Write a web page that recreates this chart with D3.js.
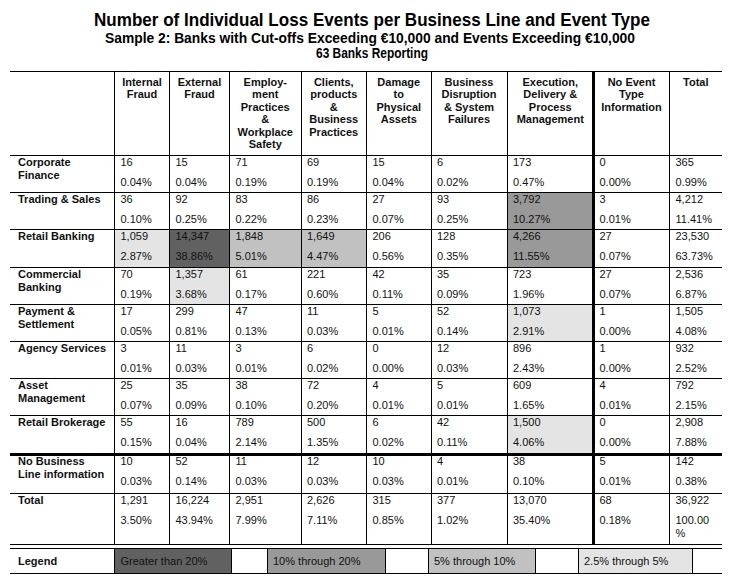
<!DOCTYPE html>
<html>
<head>
<meta charset="utf-8">
<script src="https://cdn.jsdelivr.net/npm/d3@7"></script>
<style>
  html, body { margin: 0; padding: 0; background: #fff; }
  svg { display: block; font-family: "Liberation Sans", Arial, sans-serif; }
  .ttl { font-family: "Liberation Sans Narrow", "Arial Narrow", "Liberation Sans", sans-serif; font-weight: bold; fill: #000; }
  .hdr { font-size: 11px; font-weight: bold; fill: #111; }
  .lbl { font-size: 11px; font-weight: bold; fill: #111; }
  .val { font-size: 11px; fill: #111; }
</style>
</head>
<body>
<div id="chart"></div>
<script>
// ---- data ---------------------------------------------------------------
var titleLines = [
  'Number of Individual Loss Events per Business Line and Event Type',
  'Sample 2: Banks with Cut-offs Exceeding \u20ac10,000 and Events Exceeding \u20ac10,000',
  '63 Banks Reporting'
];

var eventTypes = [
  ['Internal', 'Fraud'],
  ['External', 'Fraud'],
  ['Employ-', 'ment', 'Practices', '&', 'Workplace', 'Safety'],
  ['Clients,', 'products', '&', 'Business', 'Practices'],
  ['Damage', 'to', 'Physical', 'Assets'],
  ['Business', 'Disruption', '& System', 'Failures'],
  ['Execution,', 'Delivery &', 'Process', 'Management'],
  ['No Event', 'Type', 'Information'],
  ['Total']
];

var businessLines = [
  ['Corporate', 'Finance'],
  ['Trading & Sales'],
  ['Retail Banking'],
  ['Commercial', 'Banking'],
  ['Payment &', 'Settlement'],
  ['Agency Services'],
  ['Asset', 'Management'],
  ['Retail Brokerage'],
  ['No Business', 'Line information'],
  ['Total']
];

var counts = [
  [16, 15, 71, 69, 15, 6, 173, 0, 365],
  [36, 92, 83, 86, 27, 93, 3792, 3, 4212],
  [1059, 14347, 1848, 1649, 206, 128, 4266, 27, 23530],
  [70, 1357, 61, 221, 42, 35, 723, 27, 2536],
  [17, 299, 47, 11, 5, 52, 1073, 1, 1505],
  [3, 11, 3, 6, 0, 12, 896, 1, 932],
  [25, 35, 38, 72, 4, 5, 609, 4, 792],
  [55, 16, 789, 500, 6, 42, 1500, 0, 2908],
  [10, 52, 11, 12, 10, 4, 38, 5, 142],
  [1291, 16224, 2951, 2626, 315, 377, 13070, 68, 36922]
];

var shares = [
  [0.04, 0.04, 0.19, 0.19, 0.04, 0.02, 0.47, 0.00, 0.99],
  [0.10, 0.25, 0.22, 0.23, 0.07, 0.25, 10.27, 0.01, 11.41],
  [2.87, 38.86, 5.01, 4.47, 0.56, 0.35, 11.55, 0.07, 63.73],
  [0.19, 3.68, 0.17, 0.60, 0.11, 0.09, 1.96, 0.07, 6.87],
  [0.05, 0.81, 0.13, 0.03, 0.01, 0.14, 2.91, 0.00, 4.08],
  [0.01, 0.03, 0.01, 0.02, 0.00, 0.03, 2.43, 0.00, 2.52],
  [0.07, 0.09, 0.10, 0.20, 0.01, 0.01, 1.65, 0.01, 2.15],
  [0.15, 0.04, 2.14, 1.35, 0.02, 0.11, 4.06, 0.00, 7.88],
  [0.03, 0.14, 0.03, 0.03, 0.03, 0.01, 0.10, 0.01, 0.38],
  [3.50, 43.94, 7.99, 7.11, 0.85, 1.02, 35.40, 0.18, 100.00]
];

// highlighted cells: [row, col, legend band]
var highlights = [
  [1, 6, 1],
  [2, 0, 3], [2, 1, 0], [2, 2, 2], [2, 3, 2], [2, 6, 1],
  [3, 1, 3],
  [4, 6, 3],
  [7, 6, 3]
];

var legendLabels = ['Greater than 20%', '10% through 20%', '5% through 10%', '2.5% through 5%'];
var bandColors = ['#616161', '#999999', '#c1c1c1', '#e4e4e4'];

// ---- layout -------------------------------------------------------------
var W = 741, H = 582;
var colEdges = [10, 114.5, 169.5, 229.5, 301, 366.5, 431, 507, 593.5, 669.5, 722];
var rowEdges = [155, 192, 229, 267, 304, 341, 378, 415, 454, 493, 544];
var tableTop = 71.5;
var legendTop = 548.5, legendBottom = 573.5;
var legendBoxes = [[114.5, 231], [267, 385], [428, 535], [578, 692]];

var svg = d3.select('#chart').append('svg')
  .attr('width', W).attr('height', H)
  .attr('viewBox', '0 0 ' + W + ' ' + H);

// titles
var tt = [
  { y: 26, size: 18, w: 556, cx: 372 },
  { y: 43, size: 14.5, w: 530, cx: 370 },
  { y: 58, size: 14.5, w: 112, cx: 372 }
];
svg.selectAll('text.ttl').data(titleLines).join('text')
  .attr('class', 'ttl')
  .attr('x', function (d, i) { return tt[i].cx; })
  .attr('y', function (d, i) { return tt[i].y; })
  .attr('text-anchor', 'middle')
  .attr('font-size', function (d, i) { return tt[i].size; })
  .attr('textLength', function (d, i) { return tt[i].w; })
  .attr('lengthAdjust', 'spacingAndGlyphs')
  .text(function (d) { return d; });

var fmt = d3.format(',d');

// shaded cells
svg.append('g').selectAll('rect').data(highlights).join('rect')
  .attr('x', function (d) { return colEdges[d[1] + 1]; })
  .attr('y', function (d) { return rowEdges[d[0]]; })
  .attr('width', function (d) { return colEdges[d[1] + 2] - colEdges[d[1] + 1]; })
  .attr('height', function (d) { return rowEdges[d[0] + 1] - rowEdges[d[0]]; })
  .attr('fill', function (d) { return bandColors[d[2]]; });

// legend boxes
svg.append('g').selectAll('rect').data(legendBoxes).join('rect')
  .attr('x', function (d) { return d[0]; })
  .attr('y', legendTop)
  .attr('width', function (d) { return d[1] - d[0]; })
  .attr('height', legendBottom - legendTop)
  .attr('fill', function (d, i) { return bandColors[i]; });

// grid lines
var grid = svg.append('g').attr('stroke', '#000').attr('shape-rendering', 'crispEdges');
[tableTop].concat(rowEdges).forEach(function (y, i) {
  var thick = (i === 9);
  grid.append('line')
    .attr('x1', colEdges[0]).attr('x2', colEdges[10])
    .attr('y1', y).attr('y2', y)
    .attr('stroke-width', thick ? 3 : 1);
});
colEdges.slice(1, 10).forEach(function (x, i) {
  grid.append('line')
    .attr('x1', x).attr('x2', x)
    .attr('y1', tableTop).attr('y2', rowEdges[10])
    .attr('stroke-width', i === 7 ? 3 : 1);
});
[legendTop, legendBottom].forEach(function (y) {
  grid.append('line').attr('x1', colEdges[0]).attr('x2', colEdges[10])
    .attr('y1', y).attr('y2', y).attr('stroke-width', 1);
});
legendBoxes.forEach(function (b) {
  b.forEach(function (x) {
    grid.append('line').attr('x1', x).attr('x2', x)
      .attr('y1', legendTop).attr('y2', legendBottom).attr('stroke-width', 1);
  });
});

// column headers
var hdr = svg.append('g');
eventTypes.forEach(function (lines, c) {
  var cx = (colEdges[c + 1] + colEdges[c + 2]) / 2;
  var t = hdr.append('text').attr('class', 'hdr').attr('text-anchor', 'middle');
  lines.forEach(function (s, k) {
    t.append('tspan').attr('x', cx).attr('y', 86 + k * 12.4).text(s);
  });
});

// row labels
var lab = svg.append('g');
businessLines.forEach(function (lines, r) {
  var t = lab.append('text').attr('class', 'lbl');
  lines.forEach(function (s, k) {
    t.append('tspan').attr('x', 18).attr('y', rowEdges[r] + 11 + k * 13).text(s);
  });
});
lab.append('text').attr('class', 'lbl').attr('x', 18).attr('y', legendTop + 16.5).text('Legend');

// values
var body = svg.append('g');
counts.forEach(function (row, r) {
  row.forEach(function (v, c) {
    var x0 = colEdges[c + 1] + 6;
    var y0 = rowEdges[r];
    body.append('text').attr('class', 'val').attr('x', x0).attr('y', y0 + 11).text(fmt(v));
    var pct = shares[r][c].toFixed(2) + '%';
    var t = body.append('text').attr('class', 'val').attr('x', x0).attr('y', y0 + 31).text(pct);
    // the narrow Total column wraps the percent sign onto its own line
    var avail = colEdges[c + 2] - colEdges[c + 1] - 12;
    if (t.node().getComputedTextLength() > avail) {
      t.text(pct.slice(0, -1));
      body.append('text').attr('class', 'val').attr('x', x0).attr('y', y0 + 44).text('%');
    }
  });
});

// legend labels
svg.append('g').selectAll('text').data(legendLabels).join('text')
  .attr('class', 'val')
  .attr('x', function (d, i) { return legendBoxes[i][0] + 6; })
  .attr('y', legendTop + 16.5)
  .attr('fill', function (d, i) { return i === 0 ? '#2a2a2a' : '#111'; })
  .text(function (d) { return d; });
</script>
</body>
</html>
